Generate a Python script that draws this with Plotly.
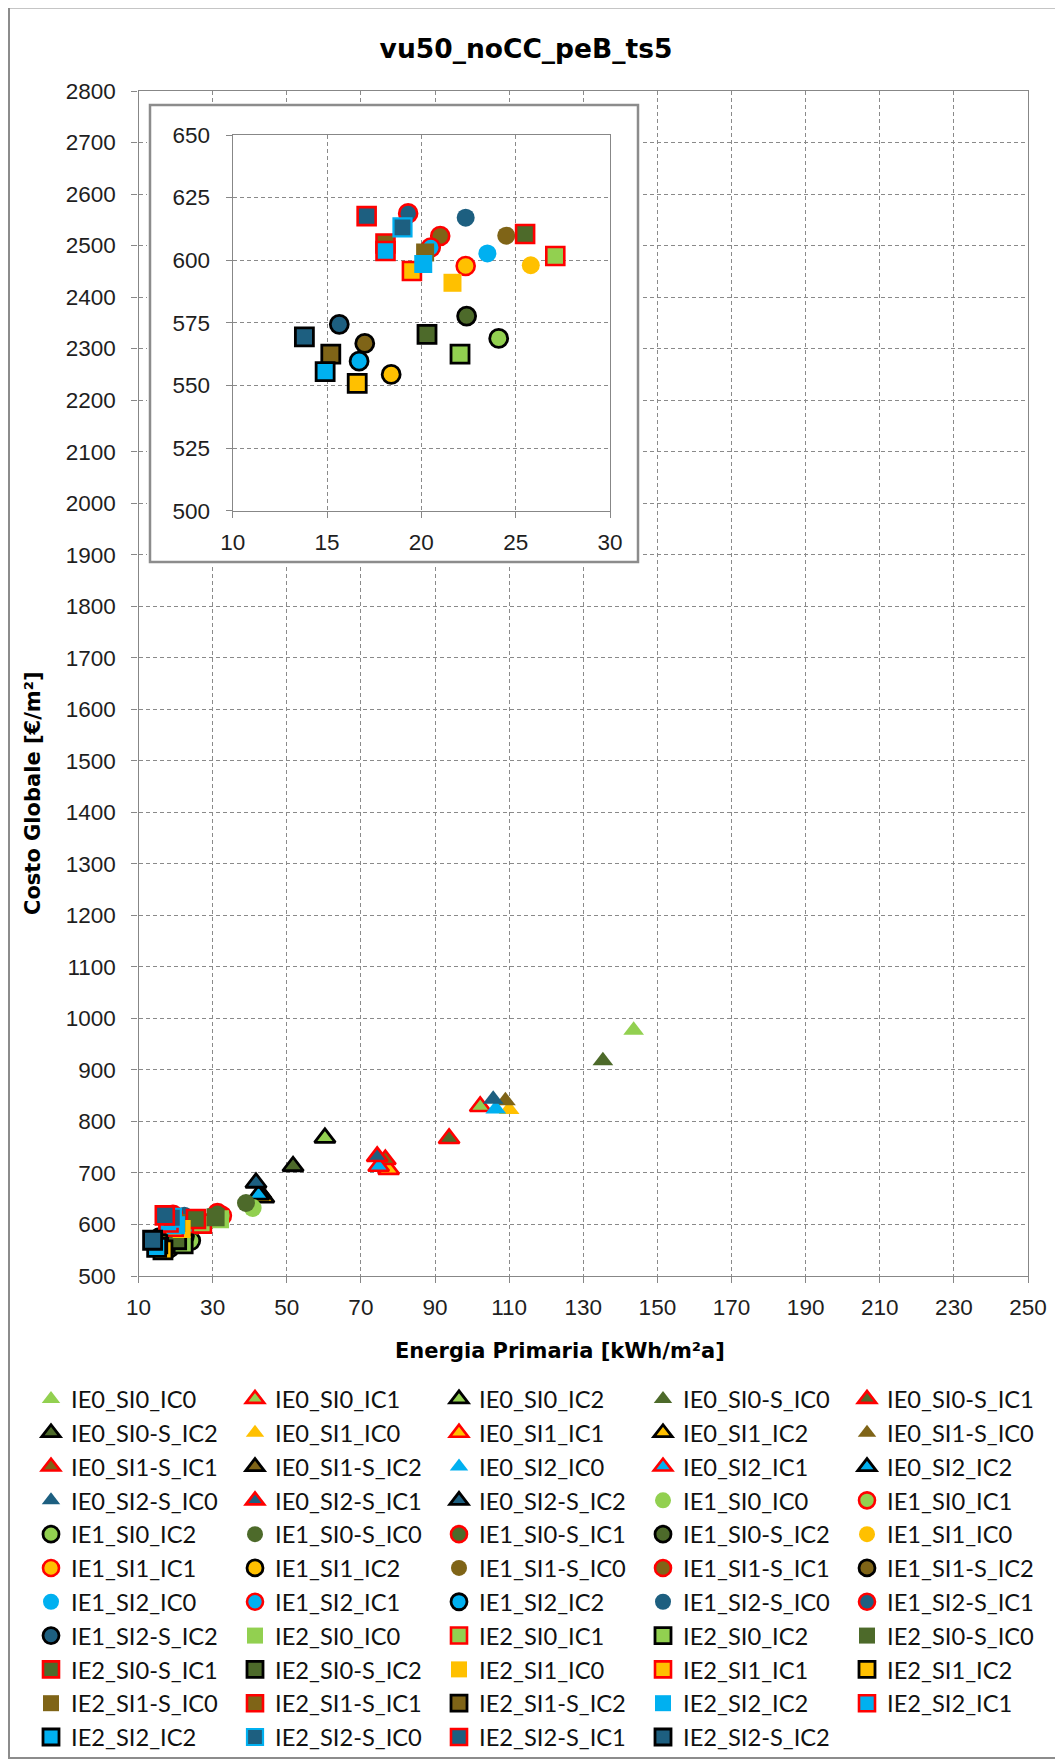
import plotly.graph_objects as go

# ---------------- data ----------------
labels = [
    "IE0_SI0_IC0", "IE0_SI0_IC1", "IE0_SI0_IC2", "IE0_SI0-S_IC0", "IE0_SI0-S_IC1",
    "IE0_SI0-S_IC2", "IE0_SI1_IC0", "IE0_SI1_IC1", "IE0_SI1_IC2", "IE0_SI1-S_IC0",
    "IE0_SI1-S_IC1", "IE0_SI1-S_IC2", "IE0_SI2_IC0", "IE0_SI2_IC1", "IE0_SI2_IC2",
    "IE0_SI2-S_IC0", "IE0_SI2-S_IC1", "IE0_SI2-S_IC2", "IE1_SI0_IC0", "IE1_SI0_IC1",
    "IE1_SI0_IC2", "IE1_SI0-S_IC0", "IE1_SI0-S_IC1", "IE1_SI0-S_IC2", "IE1_SI1_IC0",
    "IE1_SI1_IC1", "IE1_SI1_IC2", "IE1_SI1-S_IC0", "IE1_SI1-S_IC1", "IE1_SI1-S_IC2",
    "IE1_SI2_IC0", "IE1_SI2_IC1", "IE1_SI2_IC2", "IE1_SI2-S_IC0", "IE1_SI2-S_IC1",
    "IE1_SI2-S_IC2", "IE2_SI0_IC0", "IE2_SI0_IC1", "IE2_SI0_IC2", "IE2_SI0-S_IC0",
    "IE2_SI0-S_IC1", "IE2_SI0-S_IC2", "IE2_SI1_IC0", "IE2_SI1_IC1", "IE2_SI1_IC2",
    "IE2_SI1-S_IC0", "IE2_SI1-S_IC1", "IE2_SI1-S_IC2", "IE2_SI2_IC2", "IE2_SI2_IC1",
    "IE2_SI2_IC2", "IE2_SI2-S_IC0", "IE2_SI2-S_IC1", "IE2_SI2-S_IC2",
]

energia_primaria = [
    143.6, 102.2, 60.3, 135.3, 93.8,
    51.7, 110.0, 77.5, 43.8, 109.0,
    76.6, 43.0, 106.4, 74.8, 42.4,
    105.7, 74.4, 41.7, 40.8, 32.5,
    24.1, 39.0, 31.3, 22.4, 25.8,
    22.35, 18.4, 24.5, 21.0, 17.0,
    23.5, 20.5, 16.7, 22.35, 19.3,
    15.65, 32.0, 27.1, 22.05, 30.8,
    25.5, 20.3, 21.65, 19.5, 16.6,
    20.2, 18.1, 15.2, 20.1, 18.1,
    14.9, 19.0, 17.1, 13.8,
]

costo_globale = [
    977, 829, 768, 918, 767,
    713, 823, 707, 652, 840,
    726, 660, 824, 713, 658,
    843, 732, 681, 632, 617,
    568.8, 641.7, 622, 577.7, 598,
    597.7, 554.4, 609.8, 609.7, 566.8,
    602.7, 605.1, 559.7, 617, 618.7,
    574.4, 610, 601.7, 562.5, 614,
    610.5, 570.4, 591, 595.7, 550.8,
    603.1, 606.7, 562.5, 598.5, 603.7,
    555.5, 613.1, 617.6, 569.4,
]

main_x_ticks = list(range(10, 251, 20))
main_y_ticks = list(range(500, 2801, 100))
inset_x_ticks = [10, 15, 20, 25, 30]
inset_y_ticks = [500, 525, 550, 575, 600, 625, 650]

# ---------------- styles ----------------
PAGE_MARGIN = 8                      # default body margin of the html page
W, H = 1063 - PAGE_MARGIN, 1761 - PAGE_MARGIN
FILL = {"SI0": "#92D050", "SI0-S": "#4D6A2A", "SI1": "#FFC000",
        "SI1-S": "#7F6417", "SI2": "#00B0F0", "SI2-S": "#1D5F80"}
SYMBOL = {"IE0": "triangle-up", "IE1": "circle", "IE2": "square"}
SIZE = {"IE0": 18, "IE1": 18, "IE2": 18}
BORDER = {"IC0": ("rgba(0,0,0,0)", 0), "IC1": ("#FF0000", 2.6), "IC2": ("#000000", 2.8)}
# series drawn differently from what their label code says
BORDER_OVERRIDE = {48: ("rgba(0,0,0,0)", 0), 51: ("#00B0F0", 2.2)}

GRID = "#8a8a8a"
AXL = "#878787"
TICKFONT = dict(family="Liberation Sans, Arial", size=22.5, color="#1e1e1e")
TITLEFONT = dict(family="DejaVu Sans", size=21, color="#000000", weight="bold")


def fx(p):
    return (p - PAGE_MARGIN) / W


def fy(p):
    return 1 - (p - PAGE_MARGIN) / H


fig = go.Figure()
for i, name in enumerate(labels):
    ie, si, ic = name.split("_")
    lc, lw = BORDER_OVERRIDE.get(i, BORDER[ic])
    marker = dict(symbol=SYMBOL[ie], size=SIZE[ie], color=FILL[si],
                  line=dict(color=lc, width=lw))
    fig.add_trace(go.Scatter(x=[energia_primaria[i]], y=[costo_globale[i]],
                             mode="markers", name=name, marker=marker,
                             xaxis="x", yaxis="y", showlegend=True))
    fig.add_trace(go.Scatter(x=[energia_primaria[i]], y=[costo_globale[i]],
                             mode="markers", name=name, marker=marker,
                             xaxis="x3", yaxis="y3", showlegend=False))

axis_common = dict(showgrid=True, gridcolor=GRID, gridwidth=1, griddash="4px,3px",
                   showline=True, linecolor=AXL, linewidth=1.3, mirror=True,
                   ticks="outside", ticklen=6, tickcolor=AXL, tickwidth=1.3,
                   tickfont=TICKFONT, zeroline=False, fixedrange=True)
xcommon = dict(axis_common, ticklabelstandoff=5)
ycommon = dict(axis_common, ticklabelstandoff=11)

# main plot area (px, page coords)
mx0, mx1, my0, my1 = 138.5, 1028, 91, 1276
# inset box (px) and inset plot area (px)
bx0, bx1, by0, by1 = 150, 638, 105, 562
ix0, ix1, iy0, iy1 = 232.7, 610, 135, 510.7
pad = 3

fig.update_layout(
    width=W, height=H,
    margin=dict(l=0, r=0, t=0, b=0, autoexpand=False),
    paper_bgcolor="white", plot_bgcolor="white",
    title=dict(text="vu50_noCC_peB_ts5", x=fx(526), y=fy(49), xref="paper", yref="paper",
               xanchor="center", yanchor="middle", automargin=False,
               font=dict(family="DejaVu Sans", size=26.5, color="#000000", weight="bold")),
    xaxis=dict(domain=[fx(mx0), fx(mx1)], range=[10, 250], tickvals=main_x_ticks,
               anchor="y", **xcommon),
    yaxis=dict(domain=[fy(my1), fy(my0)], range=[500, 2800], tickvals=main_y_ticks,
               anchor="x", **ycommon),
    xaxis2=dict(domain=[fx(bx0 - pad), fx(bx1 + pad)], range=[0, 1], visible=False,
                anchor="y2", fixedrange=True),
    yaxis2=dict(domain=[fy(by1 + pad), fy(by0 - pad)], range=[0, 1], visible=False,
                anchor="x2", fixedrange=True),
    xaxis3=dict(domain=[fx(ix0), fx(ix1)], range=[10, 30], tickvals=inset_x_ticks,
                anchor="y3", **xcommon),
    yaxis3=dict(domain=[fy(iy1), fy(iy0)], range=[500, 650], tickvals=inset_y_ticks,
                anchor="x3", **ycommon),
    showlegend=True,
    legend=dict(orientation="h", x=fx(31), y=fy(1377), xanchor="left", yanchor="top",
                entrywidth=159, entrywidthmode="pixels", traceorder="normal",
                font=dict(family="Lato", size=23.7, color="#111111"),
                bgcolor="rgba(0,0,0,0)", itemsizing="trace", tracegroupgap=0),
)

bw = bx1 - bx0 + 2 * pad
bh = by1 - by0 + 2 * pad
fig.add_shape(type="rect", xref="x2", yref="y2", layer="below",
              x0=pad / bw, x1=1 - pad / bw, y0=pad / bh, y1=1 - pad / bh,
              fillcolor="white", line=dict(color="#8c8c8c", width=2.5))
# outer chart border
fig.add_shape(type="rect", xref="paper", yref="paper", layer="below",
              x0=fx(9), x1=fx(1060), y0=fy(1758), y1=fy(7.5),
              fillcolor="rgba(0,0,0,0)", line=dict(color="#8c8c8c", width=2))

fig.add_annotation(text="Energia Primaria [kWh/m²a]", x=fx(560), y=fy(1351),
                   xref="paper", yref="paper", showarrow=False,
                   xanchor="center", yanchor="middle", font=TITLEFONT)
fig.add_annotation(text="Costo Globale [€/m²]", x=fx(33), y=fy(793),
                   xref="paper", yref="paper", showarrow=False, textangle=-90,
                   xanchor="center", yanchor="middle", font=TITLEFONT)

fig.write_html("out.html")
